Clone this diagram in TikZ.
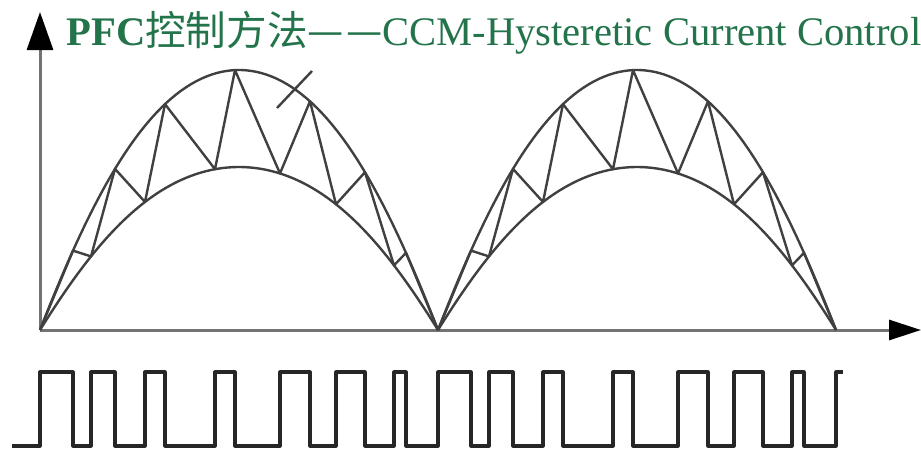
\documentclass[tikz,border=0pt]{standalone}
\usepackage{fontspec}
\setmainfont{Liberation Serif}
\newfontfamily\cjk{Noto Sans CJK SC}
\usetikzlibrary{arrows.meta}
\definecolor{titlegreen}{RGB}{35,115,75}

\begin{document}
\begin{tikzpicture}[x=0.5pt, y=-0.5pt, line join=round,
  wave/.style={black!75, line width=1.2pt},
  pulse/.style={black!85, line width=1.6pt},
  axis/.style={black!55, line width=1.5pt},
  declare function={sn(\s)=sin(\s*0.452261); env(\a,\s)=330-\a*sn(\s)*(1.25-0.25*sn(\s));}]
  \useasboundingbox (0,0) rectangle (921,450);
  % axes
  \coordinate (origin) at (40,330);
  \coordinate (ytip) at (40,12);
  \coordinate (xtip) at (921,330);
  \draw[axis, -{Triangle[length=19pt, width=13pt, black]}] (origin) -- (ytip);
  \draw[axis, -{Triangle[length=16pt, width=10pt, black]}] (origin) -- (xtip);
  \node[anchor=base west, text=titlegreen, font=\fontsize{20.3}{20.3}\selectfont, inner sep=0pt] (title) at (66,45)
    {\textbf{PFC}{\cjk 控制方法—\kern1pt—}CCM-Hysteretic Current Control};
  % two half-waves: outer and inner envelope, current zigzag between them
  \foreach \xo in {40,438} {
    \draw[wave] plot[domain=0:398, samples=80] ({\xo+\x}, {env(260,\x)});
    \draw[wave] plot[domain=0:398, samples=80] ({\xo+\x}, {env(163,\x)});
    \draw[wave] (\xo,330) foreach \i/\o in {0/33,51/75,105/125,175/195,240/270,296/325,354/366}
      { -- ({\xo+\i},{env(163,\i)}) -- ({\xo+\o},{env(260,\o)}) } -- ({\xo+398},330);
  }
  \draw[wave] (277,108) -- (312,71);
  % gate pulses
  \draw[pulse] (12,446) foreach \xo in {40,438} { foreach \i/\o in {0/33,51/75,105/125,175/195,240/270,296/325,354/366}
      { -- ({\xo+\i},446) -- ({\xo+\i},372) -- ({\xo+\o},372) -- ({\xo+\o},446) } }
    -- (836,446) -- (836,372) -- (843,372);
\end{tikzpicture}
\end{document}
